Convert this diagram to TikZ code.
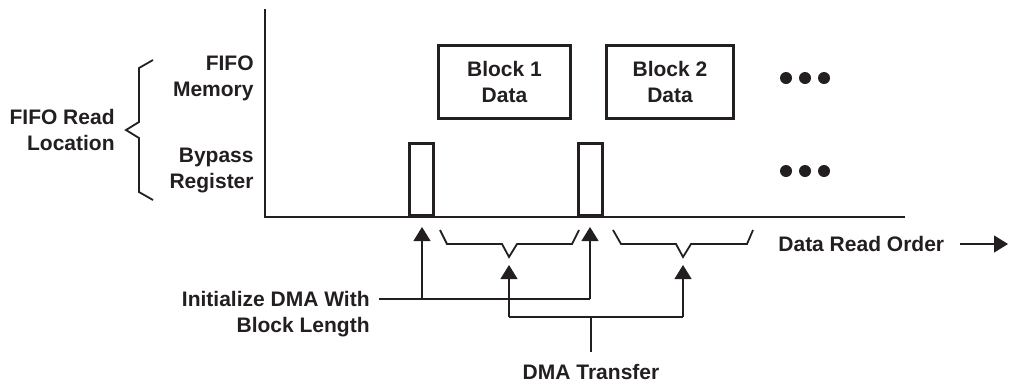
\documentclass[tikz,border=0pt]{standalone}
\usepackage{fontspec}
\setmainfont{Liberation Sans}
\usetikzlibrary{arrows.meta}
\definecolor{ink}{RGB}{35,31,32}
\begin{document}
\begin{tikzpicture}[x=0.5pt,y=-0.5pt,
  txt/.style={font=\fontsize{10.5}{13}\selectfont\bfseries, text=ink, inner sep=0pt},
  rlabel/.style={txt, align=right, anchor=east},
  clabel/.style={txt, align=center},
  thickbox/.style={draw=ink, line width=1.5pt, inner sep=0pt, clabel},
  axisline/.style={draw=ink, line width=0.9pt},
  thinline/.style={draw=ink, line width=0.6pt},
  bracketline/.style={draw=ink, line width=0.9pt},
  tip/.style={-{Triangle[width=8.5pt,length=7pt]}},
  dot/.style={fill=ink}
]
\useasboundingbox (0,0) rectangle (1010,387);

% axes
\coordinate (origin) at (265,217);
\coordinate (ytop) at (265,9);
\coordinate (xend) at (905,217);
\draw[axisline] (ytop) -- (origin) -- (xend);

% row labels
\node[rlabel] (fifomem) at (254,78) {FIFO\\Memory};
\node[rlabel] (bypass) at (254,170) {Bypass\\Register};
\node[rlabel] (readloc) at (115,129.5) {FIFO Read\\Location};

% brace
\draw[bracketline] (153,60) -- (139,68) -- (139,122) -- (126,130) -- (139,138) -- (139,192) -- (153,200);

% data blocks
\node[thickbox, minimum width=66pt, minimum height=36.5pt] (b1) at (504.5,82) {Block 1\\Data};
\node[thickbox, minimum width=63.5pt, minimum height=36.5pt] (b2) at (670,82) {Block 2\\Data};

% bypass register reads
\node[thickbox, minimum width=12pt, minimum height=36pt] (bp1) at (421.5,179.5) {};
\node[thickbox, minimum width=12pt, minimum height=36pt] (bp2) at (590,179.5) {};

% dots
\foreach \x in {786,805,824} {
  \fill[dot] (\x,78) circle[radius=3pt];
  \fill[dot] (\x,171) circle[radius=3pt];
}

% transfer brackets
\draw[bracketline] (440,230) -- (447,244) -- (502,244) -- (509,257) -- (517,244) -- (572,244) -- (579,230);
\draw[bracketline] (613,230) -- (621,244) -- (676,244) -- (683,257) -- (691,244) -- (747,244) -- (753,230);

% data read order
\node[txt, anchor=west] (order) at (778,244) {Data Read Order};
\coordinate (orderend) at (1008,244);
\draw[thinline, tip] ([xshift=7.5pt]order.east) -- (orderend);

% initialize DMA
\node[rlabel] (init) at (370,314) {Initialize DMA With\\Block Length};
\coordinate (i0) at (379,299);
\coordinate (i1) at (422,299);
\coordinate (i2) at (590,299);
\coordinate (t1) at (422,227);
\coordinate (t2) at (590,227);
\draw[thinline] (i0) -- (i2);
\draw[thinline, tip] (i1) -- (t1);
\draw[thinline, tip] (i2) -- (t2);

% DMA transfer
\node[clabel] (dma) at (591,372) {DMA Transfer};
\coordinate (d1) at (509,317);
\coordinate (d2) at (683,317);
\coordinate (dm) at (591,317);
\coordinate (u1) at (509,265);
\coordinate (u2) at (683,265);
\draw[thinline] (d1) -- (d2);
\draw[thinline, tip] (d1) -- (u1);
\draw[thinline, tip] (d2) -- (u2);
\draw[thinline] (dm) -- ([yshift=6pt]dma.north);
\end{tikzpicture}
\end{document}
